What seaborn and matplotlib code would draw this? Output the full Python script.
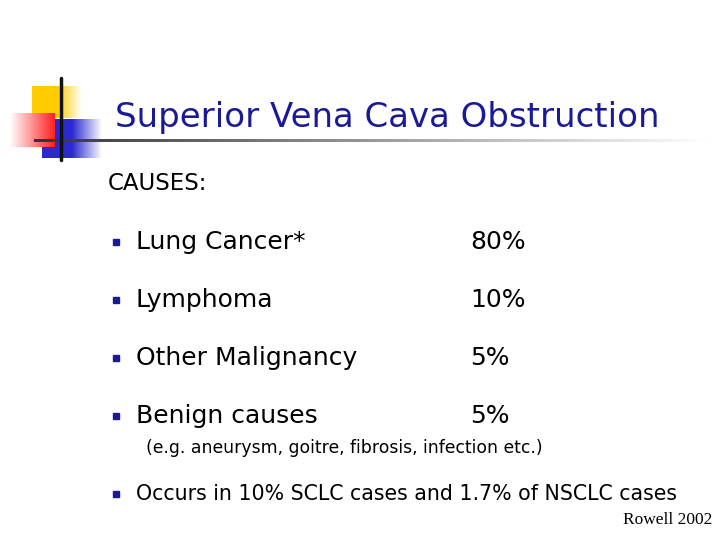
import numpy as np
import seaborn as sns
import matplotlib.pyplot as plt
from matplotlib.colors import LinearSegmentedColormap

sns.set_theme(style="white")
plt.rcParams['font.family'] = ['DejaVu Sans']

title = "Superior Vena Cava Obstruction"
heading = "CAUSES:"
causes = ["Lung Cancer*", "Lymphoma", "Other Malignancy", "Benign causes"]
percents = ["80%", "10%", "5%", "5%"]
note = "(e.g. aneurysm, goitre, fibrosis, infection etc.)"
extra = "Occurs in 10% SCLC cases and 1.7% of NSCLC cases"
source = "Rowell 2002"

fig = plt.figure(figsize=(7.2, 5.4), dpi=100)
ax = fig.add_axes([0, 0, 1, 1])
ax.axis("off")

def grad(x0, x1, y0, y1, colors, z):
    cm = LinearSegmentedColormap.from_list("g", colors)
    g = np.linspace(0, 1, 256).reshape(1, -1)
    ax.imshow(g, cmap=cm, extent=[x0, x1, y1, y0], aspect="auto", zorder=z)

# logo
grad(32, 82, 86, 118, ["#ffcc00", "#ffcc00", "#ffffff"], 1)
grad(42, 102, 119, 158, ["#2a2ad0", "#2a2ad0", "#ffffff"], 2)
grad(10, 55, 113, 147, ["#ffffff", "#ff2020"], 3)
grad(34, 710, 139.5, 142, ["#333333", "#999999", "#ffffff"], 4)
ax.plot([61, 61], [78, 160], color="#111111", lw=2.5, zorder=5)
ax.set_xlim(0, 720)
ax.set_ylim(540, 0)

ax.text(115, 118, title, fontsize=24.5, color="#1a1a99", va="center")
ax.text(108, 183, heading, fontsize=16.5, color="black", va="center")

ys = [242, 300, 358, 416]
for y, c, p in zip(ys, causes, percents):
    ax.plot(116, y, marker="s", color="#1a1a99", ms=5)
    ax.text(136, y, c, fontsize=18, color="black", va="center")
    ax.text(470, y, p, fontsize=18, color="black", va="center")
ax.text(146, 448, note, fontsize=12.4, color="black", va="center")
ax.plot(116, 494, marker="s", color="#1a1a99", ms=4.5)
ax.text(136, 494, extra, fontsize=14.8, color="black", va="center")
ax.text(712, 520, source, fontsize=12.5, family="Liberation Serif",
        color="black", ha="right", va="center")

fig.savefig("out.png", dpi=100)
